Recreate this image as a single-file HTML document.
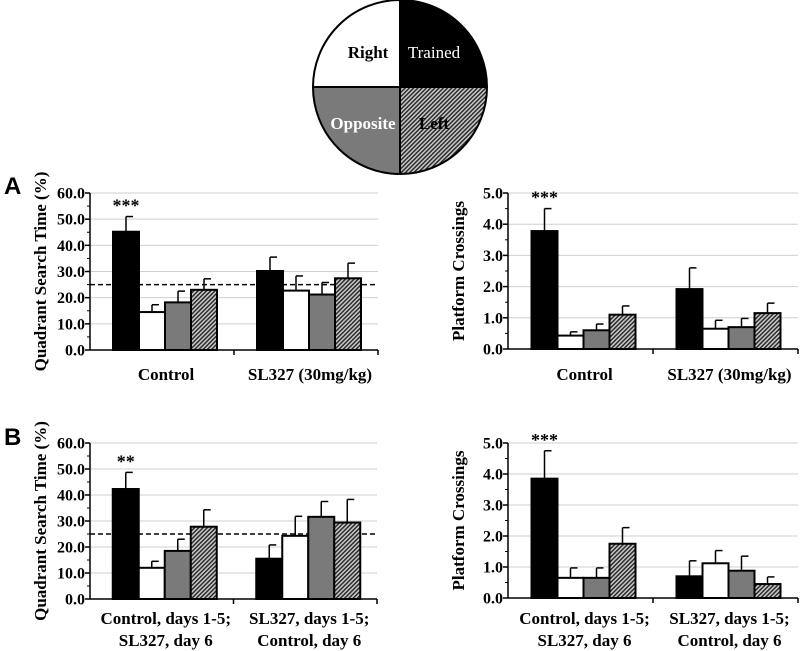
<!DOCTYPE html>
<html><head><meta charset="utf-8"><style>
html,body{margin:0;padding:0;background:#fff;}
svg{display:block;font-family:"Liberation Serif",serif;font-weight:bold;}
</style></head><body>
<svg id="fig" width="800" height="651" viewBox="0 0 800 651">
<defs>
<pattern id="hatch" patternUnits="userSpaceOnUse" width="3" height="3" patternTransform="rotate(45)">
<rect width="3" height="3" fill="#c8c8c8"/><rect width="1.4" height="3" fill="#222"/>
</pattern>
</defs>
<g>
<path d="M400,87 L400,0 A87,87 0 0 0 313,87 Z" fill="#fff" stroke="#000" stroke-width="2"/>
<path d="M400,87 L400,0 A87,87 0 0 1 487,87 Z" fill="#000" stroke="#000" stroke-width="2"/>
<path d="M400,87 L313,87 A87,87 0 0 0 400,174 Z" fill="#7a7a7a" stroke="#000" stroke-width="2"/>
<path d="M400,87 L487,87 A87,87 0 0 1 400,174 Z" fill="url(#hatch)" stroke="#000" stroke-width="2"/>
<text x="368" y="58" font-size="17" text-anchor="middle" fill="#000">Right</text>
<text x="434" y="58" font-size="17" text-anchor="middle" fill="#fff" font-weight="normal">Trained</text>
<text x="363" y="129" font-size="17" text-anchor="middle" fill="#fff">Opposite</text>
<text x="434" y="129" font-size="17" text-anchor="middle" fill="#000">Left</text>
</g>
<text x="4" y="194" font-family="Liberation Sans, sans-serif" font-size="24">A</text>
<text x="4" y="445" font-family="Liberation Sans, sans-serif" font-size="24">B</text>
</svg>
<script>
// Panel A left: quadrant search time (%)
const aLeftCtrl = [45.2, 14.5, 18.2, 23.0];
const aLeftCtrlErr = [5.8, 2.8, 4.3, 4.2];
const aLeftSL = [30.2, 22.7, 21.2, 27.4];
const aLeftSLErr = [5.3, 5.6, 4.6, 5.8];
// Panel A right: platform crossings
const aRightCtrl = [3.78, 0.43, 0.60, 1.10];
const aRightCtrlErr = [0.72, 0.12, 0.20, 0.28];
const aRightSL = [1.92, 0.65, 0.70, 1.15];
const aRightSLErr = [0.68, 0.27, 0.28, 0.32];
// Panel B left
const bLeftG1 = [42.3, 12.0, 18.5, 27.8];
const bLeftG1Err = [6.4, 2.5, 4.5, 6.5];
const bLeftG2 = [15.5, 24.3, 31.6, 29.4];
const bLeftG2Err = [5.3, 7.5, 5.9, 8.9];
// Panel B right
const bRightG1 = [3.85, 0.65, 0.65, 1.75];
const bRightG1Err = [0.90, 0.32, 0.32, 0.52];
const bRightG2 = [0.70, 1.12, 0.88, 0.45];
const bRightG2Err = [0.50, 0.41, 0.47, 0.23];
const timeTicks = ["0.0","10.0","20.0","30.0","40.0","50.0","60.0"];
const crossTicks = ["0.0","1.0","2.0","3.0","4.0","5.0"];
const catsA = [["Control"],["SL327 (30mg/kg)"]];
const catsB = [["Control, days 1-5;","SL327, day 6"],["SL327, days 1-5;","Control, day 6"]];

const NS = "http://www.w3.org/2000/svg";
const svg = document.getElementById('fig');
const fills = ["#000", "#fff", "#7a7a7a", "url(#hatch)"];
function mk(tag, attrs, parent){
  const e = document.createElementNS(NS, tag);
  for (const k in attrs) e.setAttribute(k, attrs[k]);
  (parent||svg).appendChild(e);
  return e;
}
function chart(o){
  const g = mk('g', {});
  
  
  const y = v => o.y0 - (v / o.max) * (o.y0 - o.yTop);
  const stepVal = o.max / (o.ticks.length - 1);
  o.ticks.forEach((t, i) => {
    const yy = y(i * stepVal);
    if (i > 0) {
      const gl = mk('line', {x1:o.x0, x2:o.x1, y1:yy, y2:yy, stroke:'#cfcfcf', 'stroke-width':1}, g);
      
      
    }
    const tl = mk('text', {x:o.x0-5, y:yy+5.5, 'font-size':16, 'text-anchor':'end'}, g);
    tl.textContent = t;
    
    
    mk('line', {x1:o.x0-5, x2:o.x0, y1:yy, y2:yy, stroke:'#000', 'stroke-width':1.5}, g);
    if (i < o.ticks.length - 1) {
      const my = y((i + 0.5) * stepVal);
      mk('line', {x1:o.x0-3, x2:o.x0, y1:my, y2:my, stroke:'#000', 'stroke-width':1}, g);
    }
  });
  if (o.dash !== undefined) {
    const d = mk('line', {x1:o.x0, x2:o.x1, y1:y(o.dash), y2:y(o.dash), stroke:'#000', 'stroke-width':1.5, 'stroke-dasharray':'5,3'}, g);
    
    
  }
  const gw = (o.x1 - o.x0) / 2;
  const bw = 26;
  o.groups.forEach((vals, gi) => {
    const errs = o.errs[gi];
    const start = o.x0 + gi * gw + (gw - 4 * bw) / 2 + 3;
    vals.forEach((v, bi) => {
      const bx = start + bi * bw;
      const top = y(v + errs[bi]);
      const el = mk('line', {x1:bx+bw/2, x2:bx+bw/2, y1:y(v), y2:top, stroke:'#000', 'stroke-width':1.5}, g);
      
      
      mk('line', {x1:bx+bw/2, x2:bx+bw/2+7, y1:top, y2:top, stroke:'#000', 'stroke-width':1.5}, g);
      const r = mk('rect', {x:bx, y:y(v), width:bw, height:o.y0 - y(v), fill:fills[bi], stroke:'#000', 'stroke-width':2}, g);
      
      
    });
    if (gi === 0 && o.star) {
      const s = mk('text', {x:start + bw/2, y:y(vals[0] + errs[0]) - 5, 'font-size':18, 'text-anchor':'middle'}, g);
      s.textContent = o.star;
      
      
    }
    o.cats[gi].forEach((line, li) => {
      const t = mk('text', {x:o.x0 + gi * gw + gw/2 + 4, y:o.labelY + li * 22, 'font-size':17, 'text-anchor':'middle'}, g);
      t.textContent = line;
      
      
    });
  });
  const ax = mk('line', {x1:o.x0, x2:o.x0, y1:o.yTop, y2:o.y0, stroke:'#000', 'stroke-width':1.5}, g);
  
  
  const xa = mk('line', {x1:o.x0, x2:o.x1, y1:o.y0, y2:o.y0, stroke:'#000', 'stroke-width':1.5}, g);
  
  
  [1, 2].forEach(k => mk('line', {x1:o.x0 + k*gw, x2:o.x0 + k*gw, y1:o.y0, y2:o.y0+5, stroke:'#000', 'stroke-width':1.5}, g));
  const yt = mk('text', {x:0, y:0, 'font-size':17, 'text-anchor':'middle', transform:'translate(' + (o.x0-44) + ',' + ((o.y0+o.yTop)/2) + ') rotate(-90)'}, g);
  yt.textContent = o.title;
  
  
}
chart({name:'chart-a-search-time', x0:90, x1:378, y0:350, yTop:193, max:60, ticks:timeTicks, dash:25,
  groups:[aLeftCtrl, aLeftSL], errs:[aLeftCtrlErr, aLeftSLErr], star:'***', cats:catsA, labelY:380, title:'Quadrant Search Time (%)'});
chart({name:'chart-a-platform-crossings', x0:508, x1:798, y0:349, yTop:193, max:5, ticks:crossTicks,
  groups:[aRightCtrl, aRightSL], errs:[aRightCtrlErr, aRightSLErr], star:'***', cats:catsA, labelY:380, title:'Platform Crossings'});
chart({name:'chart-b-search-time', x0:90, x1:377, y0:599, yTop:443, max:60, ticks:timeTicks, dash:25,
  groups:[bLeftG1, bLeftG2], errs:[bLeftG1Err, bLeftG2Err], star:'**', cats:catsB, labelY:624, title:'Quadrant Search Time (%)'});
chart({name:'chart-b-platform-crossings', x0:508, x1:798, y0:598, yTop:443, max:5, ticks:crossTicks,
  groups:[bRightG1, bRightG2], errs:[bRightG1Err, bRightG2Err], star:'***', cats:catsB, labelY:624, title:'Platform Crossings'});
</script>
</body></html>
